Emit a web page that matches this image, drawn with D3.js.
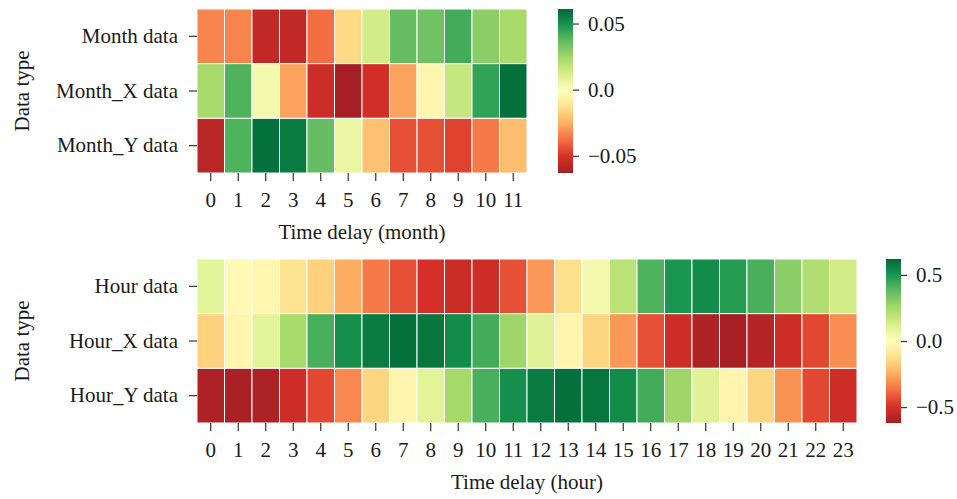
<!DOCTYPE html>
<html>
<head>
<meta charset="utf-8">
<script src="https://cdn.jsdelivr.net/npm/d3@7"></script>
<style>
  body { margin: 0; background: #fff; }
  text { font-family: "Liberation Serif", "Times New Roman", serif; fill: #1a1a1a; }
</style>
</head>
<body>
<div id="chart"></div>
<script>
const monthRows = ["Month data", "Month_X data", "Month_Y data"];
const monthLags = d3.range(12).map(String);
const monthData = [
  [-0.034, -0.034, -0.056, -0.056, -0.038, -0.015, 0.013, 0.036, 0.034, 0.042, 0.029, 0.023],
  [0.023, 0.040, 0.003, -0.028, -0.053, -0.063, -0.052, -0.028, -0.005, 0.016, 0.045, 0.059],
  [-0.058, 0.040, 0.059, 0.056, 0.036, 0.006, -0.021, -0.044, -0.044, -0.047, -0.036, -0.022]
];
const monthRange = [-0.063, 0.061];
const monthTicks = [-0.05, 0, 0.05];

const hourRows = ["Hour data", "Hour_X data", "Hour_Y data"];
const hourLags = d3.range(24).map(String);
const hourData = [
  [0.087, -0.025, -0.037, -0.11, -0.16, -0.25, -0.35, -0.43, -0.50, -0.53, -0.52, -0.43,
   -0.29, -0.12, 0.04, 0.20, 0.41, 0.50, 0.53, 0.48, 0.42, 0.30, 0.22, 0.14],
  [-0.16, -0.04, 0.09, 0.24, 0.42, 0.52, 0.57, 0.60, 0.58, 0.53, 0.43, 0.26,
   0.10, -0.04, -0.15, -0.29, -0.43, -0.52, -0.60, -0.62, -0.58, -0.52, -0.45, -0.31],
  [-0.60, -0.61, -0.60, -0.52, -0.45, -0.32, -0.15, -0.04, 0.09, 0.25, 0.42, 0.52,
   0.57, 0.60, 0.58, 0.53, 0.43, 0.26, 0.10, -0.04, -0.15, -0.30, -0.45, -0.52]
];
const hourRange = [-0.62, 0.62];
const hourTicks = [-0.5, 0, 0.5];

const W = 957, H = 499;
const FONT = 21;
// RdYlGn, first stop nudged toward the brick red of the picture
const RdYlGn = ["#a51f25","#d73027","#f46d43","#fdae61","#fee08b","#ffffbf",
                "#d9ef8b","#a6d96a","#66bd63","#1a9850","#006837"];

const svg = d3.select("#chart").append("svg")
  .attr("width", W).attr("height", H);

const fmt = v => (v < 0 ? "\u2212" : "") + Math.abs(v).toString().replace(/^0$/, "0.0");

function styleAxis(a) {
  a.select(".domain").remove();
  a.selectAll("line").attr("stroke", "#333").attr("stroke-width", 1.2);
  a.selectAll("text").attr("font-size", FONT).attr("font-family", "Liberation Serif").attr("fill", "#1a1a1a");
}

function heatmap(opts) {
  const { rows, cols, data, range, ticks, x0, x1, y0, y1, cbX, xTitle } = opts;
  const g = svg.append("g");

  const x = d3.scaleBand().domain(cols).range([x0, x1]);
  const y = d3.scaleBand().domain(rows).range([y0, y1]);
  const color = d3.scaleLinear()
    .domain(d3.range(11).map(i => range[0] + (range[1] - range[0]) * i / 10))
    .range(RdYlGn)
    .clamp(true);

  const cells = data.flatMap((r, i) => r.map((v, j) => ({ row: rows[i], col: cols[j], v })));
  g.selectAll("rect.cell").data(cells).join("rect")
    .attr("class", "cell")
    .attr("x", d => x(d.col))
    .attr("y", d => y(d.row))
    .attr("width", x.bandwidth())
    .attr("height", y.bandwidth())
    .attr("fill", d => color(d.v))
    .attr("stroke", "#fff")
    .attr("stroke-width", 1);

  g.append("g")
    .attr("transform", `translate(${x0},0)`)
    .call(d3.axisLeft(y).tickSize(8).tickPadding(11))
    .call(styleAxis);
  g.append("g")
    .attr("transform", `translate(0,${y1})`)
    .call(d3.axisBottom(x).tickSize(8).tickPadding(11))
    .call(styleAxis);

  g.append("text")
    .attr("transform", `translate(29,${(y0 + y1) / 2}) rotate(-90)`)
    .attr("text-anchor", "middle")
    .attr("font-size", FONT)
    .text("Data type");

  g.append("text")
    .attr("x", (x0 + x1) / 2)
    .attr("y", y1 + 66)
    .attr("text-anchor", "middle")
    .attr("font-size", FONT)
    .text(xTitle);

  // colorbar
  const cbW = 15;
  const cy = d3.scaleLinear().domain(range).range([y1, y0]);
  const gradId = "grad" + Math.round(x0 + y0);
  const grad = svg.append("defs").append("linearGradient")
    .attr("id", gradId)
    .attr("x1", 0).attr("y1", 1).attr("x2", 0).attr("y2", 0);
  grad.selectAll("stop").data(RdYlGn).join("stop")
    .attr("offset", (d, i) => i / 10)
    .attr("stop-color", d => d);
  g.append("rect")
    .attr("x", cbX).attr("y", y0)
    .attr("width", cbW).attr("height", y1 - y0)
    .attr("fill", `url(#${gradId})`);
  g.append("g")
    .attr("transform", `translate(${cbX + cbW},0)`)
    .call(d3.axisRight(cy).tickValues(ticks).tickFormat(fmt).tickSize(6).tickPadding(9))
    .call(styleAxis);
}

heatmap({
  rows: monthRows, cols: monthLags, data: monthData, range: monthRange, ticks: monthTicks,
  x0: 197, x1: 527, y0: 9, y1: 173, cbX: 558, xTitle: "Time delay (month)"
});
heatmap({
  rows: hourRows, cols: hourLags, data: hourData, range: hourRange, ticks: hourTicks,
  x0: 197, x1: 857, y0: 259, y1: 423, cbX: 886, xTitle: "Time delay (hour)"
});
</script>
</body>
</html>
